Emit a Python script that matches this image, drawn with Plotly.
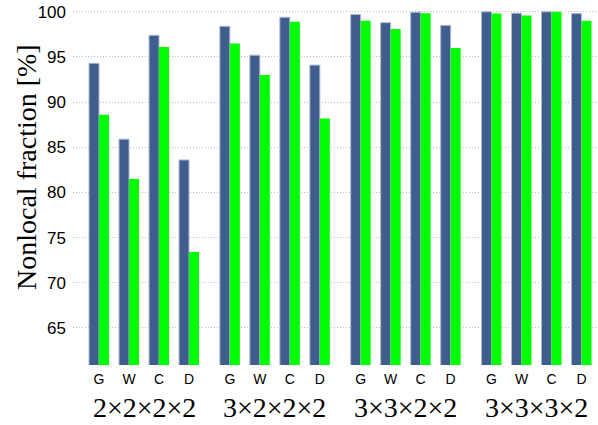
import plotly.graph_objects as go

# Scenarios (system sizes) and the four measure categories in each
scenarios = ["2×2×2×2", "3×2×2×2", "3×3×2×2", "3×3×3×2"]
measures = ["G", "W", "C", "D"]

# Nonlocal fraction [%] for each scenario/measure, two series
series_a = [
    [94.3, 85.9, 97.4, 83.6],
    [98.4, 95.2, 99.4, 94.1],
    [99.7, 98.8, 99.95, 98.5],
    [100.0, 99.85, 100.0, 99.8],
]
series_b = [
    [88.6, 81.5, 96.1, 73.4],
    [96.5, 93.0, 98.9, 88.2],
    [99.0, 98.1, 99.85, 96.0],
    [99.8, 99.6, 100.0, 99.0],
]

y_ticks = [65, 70, 75, 80, 85, 90, 95, 100]

GROUP_STEP = 4.36  # spacing between scenario blocks, in category units
SERIF = "Liberation Serif, serif"
SANS = "Liberation Sans, Arial, sans-serif"

xs, tick_text, a_vals, b_vals = [], [], [], []
for g, scen in enumerate(scenarios):
    for c, m in enumerate(measures):
        xs.append(g * GROUP_STEP + c)
        tick_text.append(m)
        a_vals.append(series_a[g][c])
        b_vals.append(series_b[g][c])

fig = go.Figure()
fig.add_trace(go.Bar(
    x=xs, y=a_vals, base=0,
    marker=dict(color="#3f5e8d", line=dict(color="#aebad0", width=1)),
    showlegend=False,
))
fig.add_trace(go.Bar(
    x=xs, y=b_vals, base=0,
    marker=dict(color="#00ff00", line=dict(width=0)),
    showlegend=False,
))

# Scenario labels centred under each block of four
for g, scen in enumerate(scenarios):
    fig.add_annotation(
        x=g * GROUP_STEP + 1.5, y=0, xref="x", yref="paper",
        yshift=-42, text=scen, showarrow=False,
        xanchor="center", yanchor="middle",
        font=dict(family=SERIF, size=28, color="black"),
    )

# Y-axis title
fig.add_annotation(
    x=(26 - 73) / 525, y=(365 - 167) / 355, xref="paper", yref="paper",
    text="Nonlocal fraction [%]", showarrow=False, textangle=-90,
    xanchor="center", yanchor="middle",
    font=dict(family=SERIF, size=28, color="black"),
)

fig.update_layout(
    width=598, height=425,
    margin=dict(l=73, r=0, t=10, b=60),
    paper_bgcolor="white", plot_bgcolor="white",
    barmode="group", bargap=1 / 3, bargroupgap=0,
    xaxis=dict(
        range=[-0.867, 16.63], tickvals=xs, ticktext=tick_text,
        showgrid=False, zeroline=False, showline=False, ticks="",
        ticklabelstandoff=4,
        tickfont=dict(family=SANS, size=14, color="black"),
    ),
    yaxis=dict(
        range=[60.9, 100.2], tickvals=y_ticks,
        showgrid=True, gridcolor="#bdbdbd", griddash="1px,2px", gridwidth=1,
        zeroline=False, showline=False, ticks="",
        ticklabelstandoff=6,
        tickfont=dict(family=SANS, size=17, color="black"),
    ),
)

fig.write_html("out.html")
